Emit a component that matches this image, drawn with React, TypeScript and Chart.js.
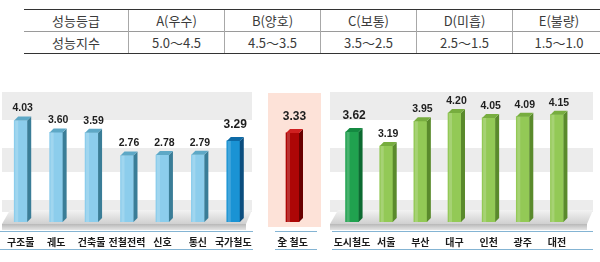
import React, { useEffect, useRef } from "react";
import { Chart, registerables } from "chart.js";

Chart.register(...registerables);

// ---- data ----
const gradeHeaders = ["성능등급", "A(우수)", "B(양호)", "C(보통)", "D(미흡)", "E(불량)"];
const gradeRanges = ["성능지수", "5.0～4.5", "4.5～3.5", "3.5～2.5", "2.5～1.5", "1.5～1.0"];

const nationalLabels = ["구조물", "궤도", "건축물", "전철전력", "신호", "통신", "국가철도"];
const nationalValues = [4.03, 3.6, 3.59, 2.76, 2.78, 2.79, 3.29];

const totalLabels = ["全 철도"];
const totalValues = [3.33];

const urbanLabels = ["도시철도", "서울", "부산", "대구", "인천", "광주", "대전"];
const urbanValues = [3.62, 3.19, 3.95, 4.2, 4.05, 4.09, 4.15];

type PanelCfg = {
  labels: string[];
  values: number[];
  front: string[];
  side: string[];
  top: string[];
  bold: boolean[];
  min: number;
  max: number;
  left: number;
  width: number;
  padL: number;
  padR: number;
  kind: "stripes" | "pink";
  bandX: [number, number];
  lineX: [number, number];
};

const pick = (n: number, hi: number, a: string, b: string) =>
  Array.from({ length: n }, (_, i) => (i === hi ? b : a));

const panels: PanelCfg[] = [
  {
    labels: nationalLabels,
    values: nationalValues,
    front: pick(7, 6, "#8ccdec", "#1a93d4"),
    side: pick(7, 6, "#3a7d97", "#0b4d7e"),
    top: pick(7, 6, "#5ea8c6", "#0d6aa6"),
    bold: nationalLabels.map((_, i) => i === 6),
    min: 0.35,
    max: 5.5,
    left: 0,
    width: 254,
    padL: 3,
    padR: 3,
    kind: "stripes",
    bandX: [2, 252],
    lineX: [0, 253],
  },
  {
    labels: totalLabels,
    values: totalValues,
    front: ["#ad0606"],
    side: ["#690000"],
    top: ["#cf2020"],
    bold: [true],
    min: 0.35,
    max: 5.1,
    left: 268,
    width: 53,
    padL: 0,
    padR: 4,
    kind: "pink",
    bandX: [0, 53],
    lineX: [7, 49],
  },
  {
    labels: urbanLabels,
    values: urbanValues,
    front: pick(7, 0, "#93c956", "#20a24f"),
    side: pick(7, 0, "#5a8a2c", "#0c6a31"),
    top: pick(7, 0, "#77ad3f", "#148a41"),
    bold: urbanLabels.map((_, i) => i === 0),
    min: 0.87,
    max: 5.21,
    left: 330,
    width: 266,
    padL: 5,
    padR: 22,
    kind: "stripes",
    bandX: [0, 263],
    lineX: [2, 263],
  },
];

const CANVAS_TOP = 60;
const CANVAS_H = 202;

function decoPlugin(cfg: PanelCfg) {
  return {
    id: "deco",
    beforeDatasetsDraw(chart: any) {
      const ctx = chart.ctx as CanvasRenderingContext2D;
      ctx.save();
      const [bx0, bx1] = cfg.bandX;
      if (cfg.kind === "stripes") {
        ctx.fillStyle = "#ececec";
        [
          [32, 60],
          [88, 112],
          [140, 152],
        ].forEach(([a, b]) => ctx.fillRect(bx0, a, bx1 - bx0, b - a));
        // floor top surface
        const g = ctx.createLinearGradient(0, 150, 0, 164);
        g.addColorStop(0, "#f3f3f3");
        g.addColorStop(1, "#d0d0d0");
        ctx.fillStyle = g;
        ctx.beginPath();
        ctx.moveTo(bx0 + 8, 150);
        ctx.lineTo(bx1, 150);
        ctx.lineTo(bx1 - 6, 164);
        ctx.lineTo(bx0, 164);
        ctx.closePath();
        ctx.fill();
        // floor front face
        const g2 = ctx.createLinearGradient(0, 164, 0, 170);
        g2.addColorStop(0, "#b8b8b8");
        g2.addColorStop(1, "#e4e4e4");
        ctx.fillStyle = g2;
        ctx.fillRect(bx0, 164, bx1 - 6 - bx0, 6);
      } else {
        ctx.fillStyle = "#fde2d8";
        ctx.fillRect(bx0, 33, bx1 - bx0, 134);
      }
      ctx.restore();
    },
    afterDatasetsDraw(chart: any) {
      const ctx = chart.ctx as CanvasRenderingContext2D;
      const meta = chart.getDatasetMeta(0);
      const d = 4;
      ctx.save();
      meta.data.forEach((bar: any, i: number) => {
        const { x, y, base, width } = bar.getProps(["x", "y", "base", "width"], true);
        const r = x + width / 2;
        const l = x - width / 2;
        ctx.fillStyle = cfg.side[i];
        ctx.beginPath();
        ctx.moveTo(r, y);
        ctx.lineTo(r + d, y - d);
        ctx.lineTo(r + d, base - d);
        ctx.lineTo(r, base);
        ctx.closePath();
        ctx.fill();
        ctx.fillStyle = cfg.top[i];
        ctx.beginPath();
        ctx.moveTo(l, y);
        ctx.lineTo(l + d, y - d);
        ctx.lineTo(r + d, y - d);
        ctx.lineTo(r, y);
        ctx.closePath();
        ctx.fill();
        // highlight on front
        ctx.fillStyle = "rgba(255,255,255,0.18)";
        ctx.fillRect(l + 1, y, 3, base - y);

        // value label
        ctx.fillStyle = "#1e1e1e";
        ctx.textAlign = "center";
        ctx.textBaseline = "middle";
        ctx.font = cfg.bold[i]
          ? 'bold 12px "Liberation Sans", Arial, sans-serif'
          : 'bold 10.5px "Liberation Sans", Arial, sans-serif';
        ctx.fillText(cfg.values[i].toFixed(2), x + 2, y - (cfg.bold[i] ? 16 : 12));

        // category label
        ctx.font = 'bold 10px "Noto Sans CJK KR", sans-serif';
        ctx.fillStyle = "#1a1a1a";
        ctx.fillText(cfg.labels[i], x, 182);
      });
      // lines
      ctx.strokeStyle = "#84b4d3";
      ctx.lineWidth = 1;
      ctx.beginPath();
      ctx.moveTo(cfg.lineX[0], 171.5);
      ctx.lineTo(cfg.lineX[1], 171.5);
      ctx.moveTo(cfg.lineX[0], 189.5);
      ctx.lineTo(cfg.lineX[1], 189.5);
      ctx.stroke();
      ctx.restore();
    },
  };
}

function Panel({ cfg }: { cfg: PanelCfg }) {
  const ref = useRef<HTMLCanvasElement | null>(null);
  useEffect(() => {
    if (!ref.current) return;
    const chart = new Chart(ref.current, {
      type: "bar",
      data: {
        labels: cfg.labels,
        datasets: [
          {
            data: cfg.values,
            backgroundColor: cfg.front,
            borderWidth: 0,
            barThickness: 13,
            base: cfg.min,
          } as any,
        ],
      },
      options: {
        animation: false,
        responsive: false,
        events: [],
        layout: { padding: { left: cfg.padL, right: cfg.padR, top: 20, bottom: 40 } },
        plugins: { legend: { display: false }, tooltip: { enabled: false } },
        scales: {
          x: { display: false },
          y: { display: false, min: cfg.min, max: cfg.max },
        },
      },
      plugins: [decoPlugin(cfg)],
    });
    return () => chart.destroy();
  }, [cfg]);
  return (
    <canvas
      ref={ref}
      width={cfg.width}
      height={CANVAS_H}
      style={{
        position: "absolute",
        left: cfg.left,
        top: CANVAS_TOP,
        width: cfg.width,
        height: CANVAS_H,
      }}
    />
  );
}

const colWidths = [104, 95, 95, 95, 95, 92];

export default function App() {
  const cell = (i: number, row: number): React.CSSProperties => ({
    width: colWidths[i],
    padding: 0,
    textAlign: "center",
    verticalAlign: "middle",
    height: 21,
    borderLeft: i === 0 ? "none" : "1px solid #a8a8a8",
    borderTop: row === 0 ? "1px solid #333" : "1px solid #9a9a9a",
    borderBottom: row === 1 ? "1px solid #333" : "none",
    color: "#3a3a3a",
    fontSize: 13,
    lineHeight: "20px",
  });
  return (
    <div
      style={{
        position: "fixed",
        left: 0,
        top: 0,
        width: 600,
        height: 262,
        background: "#fff",
        overflow: "hidden",
        fontFamily: '"Noto Sans CJK KR", sans-serif',
      }}
    >
      <table
        style={{
          position: "absolute",
          left: 24,
          top: 9,
          width: 576,
          borderCollapse: "collapse",
          tableLayout: "fixed",
        }}
      >
        <tbody>
          <tr>
            {gradeHeaders.map((t, i) => (
              <td key={t} style={cell(i, 0)}>
                {t}
              </td>
            ))}
          </tr>
          <tr>
            {gradeRanges.map((t, i) => (
              <td key={t} style={cell(i, 1)}>
                {t}
              </td>
            ))}
          </tr>
        </tbody>
      </table>
      {panels.map((p, i) => (
        <Panel key={i} cfg={p} />
      ))}
    </div>
  );
}
